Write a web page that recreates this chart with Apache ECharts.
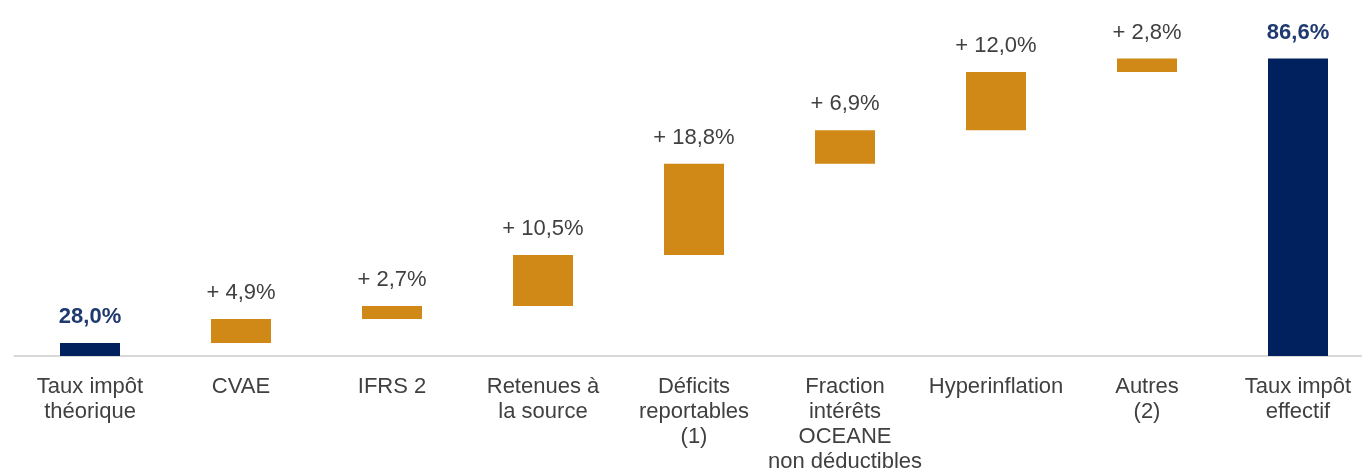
<!DOCTYPE html>
<html>
<head>
<meta charset="utf-8">
<title>Taux d'impôt effectif</title>
<script src="https://cdn.jsdelivr.net/npm/echarts@6/dist/echarts.min.js"></script>
<style>
  html, body { margin: 0; padding: 0; background: #ffffff; }
  #chart { width: 1362px; height: 470px; }
</style>
</head>
<body>
<div id="chart"></div>
<script>
// Rate bridge: theoretical tax rate -> effective tax rate (%)
const categories = [
  'Taux impôt\nthéorique',
  'CVAE',
  'IFRS 2',
  'Retenues à\nla source',
  'Déficits\nreportables\n(1)',
  'Fraction\nintérêts\nOCEANE\nnon déductibles',
  'Hyperinflation',
  'Autres\n(2)',
  'Taux impôt\neffectif'
];
const startRate = 28.0;
const deltas = [4.9, 2.7, 10.5, 18.8, 6.9, 12.0, 2.8];
const endRate = 86.6;

const NAVY = '#00205E';
const ORANGE = '#D08816';

const fmt = v => v.toFixed(1).replace('.', ',') + '%';

// invisible offsets + visible steps
const baseData = [];
const stepData = [];

baseData.push(0);
stepData.push({
  value: startRate,
  itemStyle: { color: NAVY },
  label: { formatter: fmt(startRate), color: '#1F3A6E', fontWeight: 'bold' }
});

let running = startRate;
deltas.forEach(d => {
  baseData.push(running);
  stepData.push({
    value: d,
    itemStyle: { color: ORANGE },
    label: { formatter: '+ ' + fmt(d), color: '#404040', fontWeight: 'normal' }
  });
  running += d;
});

baseData.push(0);
stepData.push({
  value: endRate,
  itemStyle: { color: NAVY },
  label: { formatter: fmt(endRate), color: '#1F3A6E', fontWeight: 'bold' }
});

const chart = echarts.init(document.getElementById('chart'));
chart.setOption({
  animation: false,
  backgroundColor: '#ffffff',
  grid: {
    left: 14.5, width: 1359, top: 10, bottom: 114,
    containLabel: false,
    outerBoundsMode: 'none'
  },
  xAxis: {
    type: 'category',
    data: categories,
    axisLine: { show: true, lineStyle: { color: '#D9D9D9', width: 2 } },
    axisTick: { show: false },
    axisLabel: {
      interval: 0,
      margin: 18,
      fontFamily: 'Liberation Sans, Arial, sans-serif',
      fontSize: 22,
      lineHeight: 25,
      color: '#404040',
      align: 'center'
    }
  },
  yAxis: {
    type: 'value',
    min: 25.3,
    max: 96.6,
    show: false,
    splitLine: { show: false }
  },
  series: [
    {
      type: 'bar',
      stack: 'bridge',
      barWidth: 60,
      silent: true,
      itemStyle: { color: 'transparent' },
      data: baseData
    },
    {
      type: 'bar',
      stack: 'bridge',
      barWidth: 60,
      data: stepData,
      label: {
        show: true,
        position: 'top',
        distance: 15,
        fontFamily: 'Liberation Sans, Arial, sans-serif',
        fontSize: 22
      }
    }
  ]
});
</script>
</body>
</html>
